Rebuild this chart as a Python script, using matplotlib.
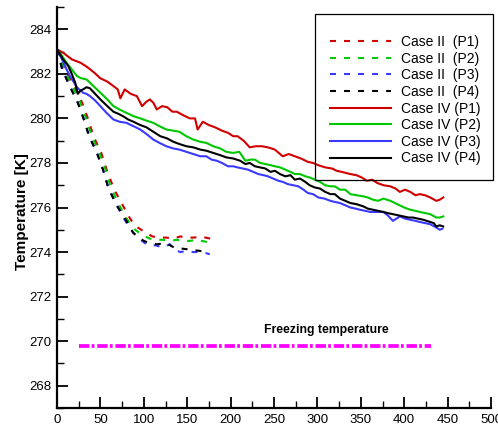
import matplotlib
matplotlib.use("Agg")
import matplotlib.pyplot as plt
from matplotlib.patches import Rectangle

plt.rcParams["font.family"] = ["Liberation Sans", "DejaVu Sans"]
plt.rcParams["lines.scale_dashes"] = False

# Case IV probes (solid)
t_iv_p1 = [0, 7, 17, 27, 35, 43, 50, 58, 65, 70, 73, 78, 85, 92, 98, 103, 107, 111, 115, 121,
           127, 133, 138, 145, 153, 159, 162, 168, 175, 182, 190, 197, 203, 208, 215, 222, 229,
           236, 243, 251, 260, 267, 274, 281, 289, 295, 301, 309, 317, 322, 328, 333, 338, 345,
           351, 357, 363, 369, 376, 384, 390, 395, 401, 407, 413, 418, 424, 430, 437, 441, 445]
T_iv_p1 = [283.1, 282.95, 282.65, 282.5, 282.3, 282.05, 281.8, 281.65, 281.45, 281.3, 280.9,
           281.3, 281.1, 281.0, 280.55, 280.75, 280.85, 280.7, 280.4, 280.55, 280.5, 280.3, 280.3,
           280.15, 280.0, 280.0, 279.5, 279.85, 279.7, 279.6, 279.45, 279.35, 279.2, 279.2, 279.0,
           278.7, 278.75, 278.75, 278.7, 278.6, 278.3, 278.4, 278.3, 278.2, 278.05, 278.0, 277.9,
           277.8, 277.75, 277.65, 277.6, 277.55, 277.5, 277.45, 277.35, 277.2, 277.25, 277.1,
           277.0, 276.95, 276.85, 276.7, 276.8, 276.7, 276.55, 276.6, 276.55, 276.45, 276.3,
           276.35, 276.45]

t_iv_p2 = [0, 5, 11, 17, 23, 28, 34, 42, 50, 58, 65, 72, 80, 88, 96, 103, 111, 118, 126, 134,
           141, 149, 157, 165, 172, 180, 188, 195, 203, 210, 217, 223, 228, 234, 240, 246, 251,
           257, 263, 269, 274, 280, 286, 291, 297, 303, 309, 315, 320, 326, 332, 338, 345, 353,
           358, 364, 370, 376, 384, 392, 400, 407, 413, 418, 424, 430, 437, 441, 445]
T_iv_p2 = [283.1, 282.85, 282.5, 282.2, 281.9, 281.8, 281.75, 281.45, 281.15, 280.85, 280.55,
           280.4, 280.25, 280.1, 280.0, 279.9, 279.8, 279.65, 279.5, 279.45, 279.4, 279.2, 279.05,
           278.95, 278.9, 278.75, 278.65, 278.5, 278.45, 278.5, 278.1, 278.15, 278.15, 278.0,
           277.95, 277.9, 277.85, 277.8, 277.7, 277.6, 277.5, 277.5, 277.4, 277.35, 277.25,
           277.15, 277.0, 276.95, 276.95, 276.8, 276.8, 276.6, 276.55, 276.5, 276.45, 276.35,
           276.3, 276.4, 276.3, 276.15, 276.0, 275.9, 275.85, 275.8, 275.75, 275.7, 275.55,
           275.55, 275.6]

t_iv_p3 = [0, 7, 11, 15, 19, 23, 27, 30, 34, 38, 44, 50, 57, 65, 72, 80, 88, 96, 103, 111, 118,
           126, 134, 141, 149, 157, 165, 172, 178, 184, 190, 197, 203, 208, 214, 220, 226, 232,
           238, 243, 249, 255, 260, 266, 272, 278, 284, 289, 295, 301, 308, 315, 320, 326, 332,
           338, 344, 349, 355, 361, 368, 376, 381, 387, 391, 395, 401, 407, 413, 418, 424, 430,
           437, 441, 444]
T_iv_p3 = [283.1, 282.55, 282.2, 281.9, 281.65, 281.4, 281.25, 281.15, 281.1, 281.0, 280.8,
           280.55, 280.25, 279.95, 279.85, 279.8, 279.65, 279.5, 279.3, 279.05, 278.9, 278.75,
           278.65, 278.6, 278.5, 278.4, 278.3, 278.3, 278.15, 278.1, 278.0, 277.85, 277.85, 277.8,
           277.75, 277.7, 277.6, 277.5, 277.45, 277.4, 277.3, 277.2, 277.15, 277.05, 277.0,
           276.95, 276.8, 276.65, 276.6, 276.45, 276.4, 276.3, 276.25, 276.2, 276.1, 276.0,
           275.95, 275.9, 275.85, 275.8, 275.8, 275.8, 275.65, 275.4, 275.5, 275.6, 275.5,
           275.45, 275.4, 275.35, 275.3, 275.25, 275.1, 275.0, 275.05]

t_iv_p4 = [0, 4, 7, 10, 13, 17, 21, 24, 27, 30, 34, 38, 44, 50, 58, 65, 71, 76, 82, 88, 96, 103,
           111, 119, 127, 134, 141, 149, 157, 165, 172, 180, 188, 195, 203, 211, 217, 222, 228,
           234, 240, 246, 251, 257, 263, 269, 274, 280, 286, 291, 297, 303, 309, 315, 320, 326,
           332, 338, 345, 353, 358, 364, 370, 376, 381, 387, 393, 399, 405, 410, 416, 422, 430,
           434, 437, 441, 445]
T_iv_p4 = [283.1, 282.85, 282.65, 282.5, 282.35, 282.0, 281.6, 281.1, 281.25, 281.3, 281.4,
           281.35, 281.1, 280.85, 280.55, 280.3, 280.2, 280.1, 279.95, 279.85, 279.7, 279.6,
           279.4, 279.2, 279.1, 278.95, 278.85, 278.75, 278.7, 278.6, 278.55, 278.45, 278.35,
           278.25, 278.2, 278.1, 277.95, 278.0, 277.85, 277.8, 277.75, 277.6, 277.65, 277.5,
           277.4, 277.45, 277.25, 277.3, 277.15, 277.0, 276.9, 276.85, 276.7, 276.6, 276.6,
           276.4, 276.3, 276.2, 276.15, 276.05, 275.95, 275.9, 275.85, 275.8, 275.75, 275.7,
           275.65, 275.6, 275.55, 275.55, 275.5, 275.45, 275.35, 275.3, 275.15, 275.2, 275.15]

# Case II probes (dashed)
t_ii_p1 = [0, 9, 19, 29, 36, 42, 51, 58, 66, 75, 85, 93, 101, 110, 118, 126, 134, 142, 150, 158,
           165, 171, 177]
T_ii_p1 = [283.1, 282.2, 281.5, 280.7, 279.95, 279.2, 278.45, 277.6, 276.8, 276.15, 275.45,
           275.1, 274.9, 274.7, 274.65, 274.65, 274.6, 274.7, 274.65, 274.65, 274.7, 274.65, 274.6]

t_ii_p2 = [0, 8, 17, 27, 34, 40, 49, 56, 62, 71, 81, 90, 99, 107, 115, 122, 130, 138, 146, 153,
           160, 167, 173, 177]
T_ii_p2 = [283.1, 282.2, 281.5, 280.7, 279.95, 279.2, 278.45, 277.7, 276.9, 276.15, 275.45,
           275.0, 274.75, 274.6, 274.55, 274.55, 274.5, 274.55, 274.5, 274.5, 274.55, 274.5,
           274.45, 274.4]

t_ii_p3 = [0, 6, 14, 24, 31, 37, 46, 53, 59, 68, 78, 85, 92, 98, 103, 108, 114, 122, 130, 136,
           142, 150, 157, 165, 172, 176]
T_ii_p3 = [283.1, 282.2, 281.5, 280.7, 279.95, 279.2, 278.45, 277.7, 276.9, 276.15, 275.45,
           275.0, 274.7, 274.5, 274.35, 274.3, 274.3, 274.2, 274.35, 274.1, 274.0, 274.05, 274.0,
           274.0, 273.95, 273.9]

t_ii_p4 = [0, 6, 14, 24, 31, 37, 46, 53, 59, 68, 80, 88, 100, 107, 115, 126, 135, 145, 155, 165,
           172]
T_ii_p4 = [283.1, 282.2, 281.5, 280.7, 279.95, 279.2, 278.45, 277.7, 276.9, 276.15, 275.4,
           274.85, 274.5, 274.4, 274.35, 274.4, 274.2, 274.15, 274.1, 274.05, 274.0]

# freezing reference line
t_freeze = [25, 431]
T_freeze = [269.8, 269.8]

RED, GREEN, BLUE, BLACK = "#d00000", "#00c800", "#3a3aff", "#000000"
DASH = (0, (4.3, 5.8))

fig = plt.figure(figsize=(4.98, 4.26), dpi=100)
ax = fig.add_axes([57 / 498, 18 / 426, 434 / 498, 401 / 426])

lw = 1.5
ax.plot(t_ii_p1, T_ii_p1, color=RED, lw=lw, linestyle=DASH, label="Case II  (P1)")
ax.plot(t_ii_p2, T_ii_p2, color=GREEN, lw=lw, linestyle=DASH, label="Case II  (P2)")
ax.plot(t_ii_p3, T_ii_p3, color=BLUE, lw=lw, linestyle=DASH, label="Case II  (P3)")
ax.plot(t_ii_p4, T_ii_p4, color=BLACK, lw=lw, linestyle=DASH, label="Case II  (P4)")
ax.plot(t_iv_p1, T_iv_p1, color=RED, lw=lw, label="Case IV (P1)")
ax.plot(t_iv_p2, T_iv_p2, color=GREEN, lw=lw, label="Case IV (P2)")
ax.plot(t_iv_p3, T_iv_p3, color=BLUE, lw=lw, label="Case IV (P3)")
ax.plot(t_iv_p4, T_iv_p4, color=BLACK, lw=lw, label="Case IV (P4)")

ax.plot(t_freeze, T_freeze, color="#ff00ff", lw=2.7,
        linestyle=(0, (7.5, 1.6, 2.0, 2.0)))
ax.text(238, 270.5, "Freezing temperature", fontsize=8.8, fontweight="bold",
        va="center", ha="left")

ax.set_xlim(0, 500)
ax.set_ylim(267, 285)
ax.set_xticks(range(0, 501, 50))
ax.set_xticks(range(0, 501, 25), minor=True)
ax.set_yticks(range(268, 285, 2))
ax.set_yticks(range(267, 286, 1), minor=True)
ax.tick_params(which="major", direction="in", length=8, width=1.3, labelsize=9.5, pad=4)
ax.tick_params(which="minor", direction="in", length=5, width=1.0)
for side in ("top", "right"):
    ax.spines[side].set_visible(False)
for side in ("left", "bottom"):
    ax.spines[side].set_linewidth(1.6)

ax.set_ylabel("Temperature [K]", fontsize=11, fontweight="bold")
ax.yaxis.set_label_coords(-0.065, 0.49)

# legend box
fig.patches.append(Rectangle((315 / 498, (426 - 180) / 426), 178 / 498, 166 / 426,
                             transform=fig.transFigure, fill=False, lw=0.9,
                             edgecolor="black"))
ax.legend(loc="upper left", bbox_to_anchor=(330 / 498, (426 - 35) / 426),
          bbox_transform=fig.transFigure, frameon=False, fontsize=10,
          handlelength=4.4, handletextpad=0.7, labelspacing=0.19,
          borderpad=0, borderaxespad=0)

fig.savefig("out.png", dpi=100)
